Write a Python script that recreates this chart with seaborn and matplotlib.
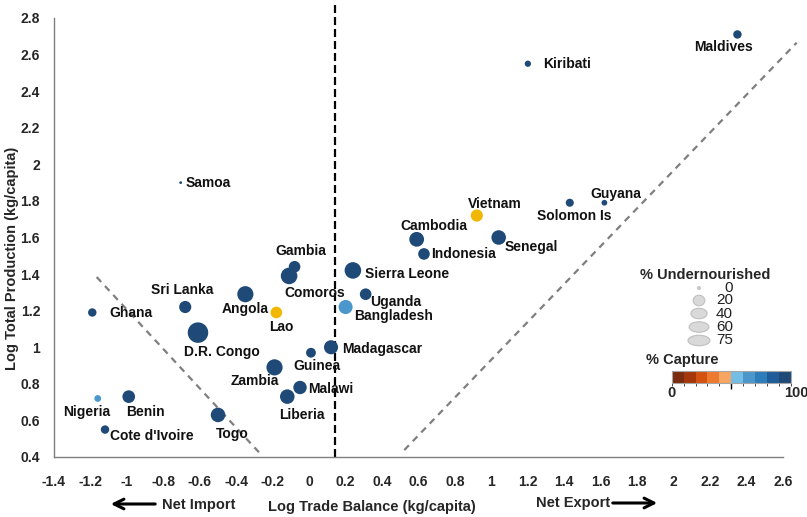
import numpy as np
import pandas as pd
import seaborn as sns
import matplotlib.pyplot as plt
from matplotlib.colors import ListedColormap, BoundaryNorm
from matplotlib.cm import ScalarMappable
from matplotlib.patches import Ellipse

countries = ['Maldives', 'Kiribati', 'Samoa', 'Guyana', 'Solomon Is', 'Vietnam', 'Senegal',
             'Cambodia', 'Indonesia', 'Sierra Leone', 'Uganda', 'Bangladesh', 'Gambia', 'Comoros',
             'Angola', 'Lao', 'Madagascar', 'Guinea', 'Zambia', 'Malawi', 'Liberia', 'Sri Lanka',
             'Ghana', 'D.R. Congo', 'Nigeria', 'Benin', "Cote d'Ivoire", 'Togo']
trade_balance = [2.35, 1.20, -0.705, 1.62, 1.43, 0.92, 1.04, 0.59, 0.63, 0.24, 0.31, 0.20, -0.08, -0.11,
                 -0.35, -0.18, 0.12, 0.01, -0.19, -0.05, -0.12, -0.68, -1.19, -0.61, -1.16, -0.99, -1.12, -0.50]
total_production = [2.71, 2.55, 1.90, 1.79, 1.79, 1.72, 1.60, 1.59, 1.51, 1.42, 1.29, 1.22, 1.44, 1.39,
                    1.29, 1.19, 1.00, 0.97, 0.89, 0.78, 0.73, 1.22, 1.19, 1.08, 0.72, 0.73, 0.55, 0.63]
undernourished = [10, 5, 0, 4, 9, 22, 32, 33, 20, 42, 20, 30, 20, 42,
                  40, 20, 30, 14, 40, 27, 32, 22, 10, 65, 6, 24, 10, 32]
capture = [95, 95, 95, 95, 95, np.nan, 95, 95, 95, 95, 95, 65, 95, 95,
           95, np.nan, 95, 95, 95, 95, 95, 95, 95, 95, 65, 95, 95, 95]

legend_levels = [0, 20, 40, 60, 75]
capture_colours = ['#7B2C10', '#A4380C', '#D4520F', '#EE7A30', '#F6A562',
                   '#74BDE4', '#4B97CB', '#2D7DBB', '#1E5C9A', '#1F4A78']
no_data_colour = '#F2B705'

# label offsets in points (dx, dy, ha)
label_pos = {
    'Maldives': (-10, -9, 'center'), 'Kiribati': (11, 0, 'left'), 'Samoa': (3.5, 0, 'left'),
    'Guyana': (8, 6, 'center'), 'Solomon Is': (3, -9.6, 'center'), 'Vietnam': (13, 8, 'center'),
    'Senegal': (4, -7, 'left'), 'Cambodia': (12.5, 9.6, 'center'), 'Indonesia': (5.5, 0, 'left'),
    'Sierra Leone': (9, -2.4, 'left'), 'Uganda': (21.6, -5.5, 'center'), 'Bangladesh': (6, -6.8, 'left'),
    'Gambia': (4.3, 11.3, 'center'), 'Comoros': (18.2, -12.2, 'center'), 'Angola': (0, -11, 'center'),
    'Lao': (3.6, -10.4, 'center'), 'Madagascar': (8, -1.2, 'left'), 'Guinea': (-13, -9.9, 'left'),
    'Zambia': (-14.2, -9.9, 'center'), 'Malawi': (6, -1.4, 'left'), 'Liberia': (10.4, -13, 'center'),
    'Sri Lanka': (-2.4, 12, 'center'), 'Ghana': (12.5, -0.7, 'left'), 'D.R. Congo': (17, -13.7, 'center'),
    'Nigeria': (-7.9, -10.1, 'center'), 'Benin': (12.2, -10.8, 'center'), "Cote d'Ivoire": (3.9, -4.8, 'left'),
    'Togo': (10.3, -13.7, 'center'),
}

df = pd.DataFrame({'country': countries, 'trade': trade_balance, 'production': total_production,
                   'undernourished': undernourished, 'capture': capture})


def capture_colour(v):
    if np.isnan(v):
        return no_data_colour
    return capture_colours[min(int(v // 10), 9)]


def fmt(v):
    return '0' if abs(v) < 1e-9 else f'{v:g}'


df['colour'] = df['capture'].apply(capture_colour)

sns.set_style('white')
plt.rcParams['font.family'] = ['Liberation Sans', 'DejaVu Sans']
plt.rcParams['font.weight'] = 'bold'

fig = plt.figure(figsize=(8.07, 5.17), dpi=100)
ax = fig.add_axes([54 / 807, 60 / 517, 729 / 807, 439 / 517])

size_range = (4, 251)
sns.scatterplot(data=df, x='trade', y='production', hue='country',
                palette=dict(zip(df['country'], df['colour'])),
                size='undernourished', sizes=size_range, size_norm=(0, 75),
                edgecolor='none', legend=False, ax=ax, zorder=3)

for _, r in df.iterrows():
    dx, dy, ha = label_pos[r['country']]
    ax.annotate(r['country'], (r['trade'], r['production']), xytext=(dx, dy),
                textcoords='offset points', ha=ha, va='center', fontsize=10,
                fontweight='bold', color='#111111', zorder=4)

# guide lines
ax.plot([0.14, 0.14], [0.4, 2.87], ls=(0, (3.6, 1.8)), color='black', lw=1.6, clip_on=False, zorder=2)
ax.plot([-1.166, -0.27], [1.384, 0.42], ls=(0, (3, 2.5)), color='#7F7F7F', lw=1.6, zorder=2)
ax.plot([0.522, 2.675], [0.438, 2.665], ls=(0, (3, 2.5)), color='#7F7F7F', lw=1.6, clip_on=False, zorder=2)

ax.set_xlim(-1.4, 2.6)
ax.set_ylim(0.4, 2.8)
xt = np.round(np.arange(-1.4, 2.61, 0.2), 1)
yt = np.round(np.arange(0.4, 2.81, 0.2), 1)
ax.set_xticks(xt)
ax.set_xticklabels([fmt(v) for v in xt])
ax.set_yticks(yt)
ax.set_yticklabels([fmt(v) for v in yt])
ax.tick_params(axis='x', length=4, width=1, color='#7F7F7F', pad=9, labelsize=10)
ax.tick_params(axis='y', length=4, width=1, color='#7F7F7F', pad=6, labelsize=10)
for lab in ax.get_xticklabels() + ax.get_yticklabels():
    lab.set_fontweight('bold')
sns.despine(ax=ax)
for s in ['left', 'bottom']:
    ax.spines[s].set_color('#7F7F7F')
    ax.spines[s].set_linewidth(1)
ax.set_xlabel('')
ax.set_ylabel('')

# overlay for axis titles, arrows, legend
ov = fig.add_axes([0, 0, 1, 1], facecolor='none')
ov.set_xlim(0, 807)
ov.set_ylim(517, 0)
ov.axis('off')
ov.text(12, 258, 'Log Total Production (kg/capita)', rotation=90, ha='center', va='center',
        fontsize=10.5, fontweight='bold')
ov.text(372, 507, 'Log Trade Balance (kg/capita)', ha='center', va='center', fontsize=10.5, fontweight='bold')
ov.text(199, 505, 'Net Import', ha='center', va='center', fontsize=10.5, fontweight='bold')
ov.text(573, 503, 'Net Export', ha='center', va='center', fontsize=10.5, fontweight='bold')
ov.annotate('', xy=(108, 504), xytext=(158, 504),
            arrowprops=dict(arrowstyle='->,head_length=0.7,head_width=0.35', lw=2.2, color='black'))
ov.annotate('', xy=(660, 503), xytext=(610, 503),
            arrowprops=dict(arrowstyle='->,head_length=0.7,head_width=0.35', lw=2.2, color='black'))

# size legend
ov.text(705, 275, '% Undernourished', ha='center', va='center', fontsize=10.5, fontweight='bold')
leg_y = [288, 300.5, 313.5, 327, 340.5]
for lvl, yy in zip(legend_levels, leg_y):
    s = size_range[0] + (size_range[1] - size_range[0]) * lvl / 75
    d = np.sqrt(s) / 0.72
    ov.add_patch(Ellipse((699, yy), d, min(d, 10.5), facecolor='#D9D9D9',
                         edgecolor='#BFBFBF', lw=0.8))
    ov.text(733, yy, str(lvl), ha='right', va='center', fontsize=11, fontweight='normal',
            color='#222222')

# capture colour bar
ov.text(682, 360, '% Capture', ha='center', va='center', fontsize=10.5, fontweight='bold')
cax = fig.add_axes([671.7 / 807, (517 - 382.7) / 517, 119 / 807, 12 / 517])
cmap = ListedColormap(capture_colours)
norm = BoundaryNorm(np.arange(0, 101, 10), cmap.N)
cb = fig.colorbar(ScalarMappable(norm=norm, cmap=cmap), cax=cax, orientation='horizontal')
cb.set_ticks([50])
cb.set_ticklabels([''])
cb.ax.tick_params(length=4, width=1, color='black')
cb.outline.set_edgecolor('#A6A6A6')
ov.text(672, 393, '0', ha='center', va='center', fontsize=10.5, fontweight='bold')
ov.text(796, 393, '100', ha='center', va='center', fontsize=10.5, fontweight='bold')

fig.savefig('out.png', dpi=100)
